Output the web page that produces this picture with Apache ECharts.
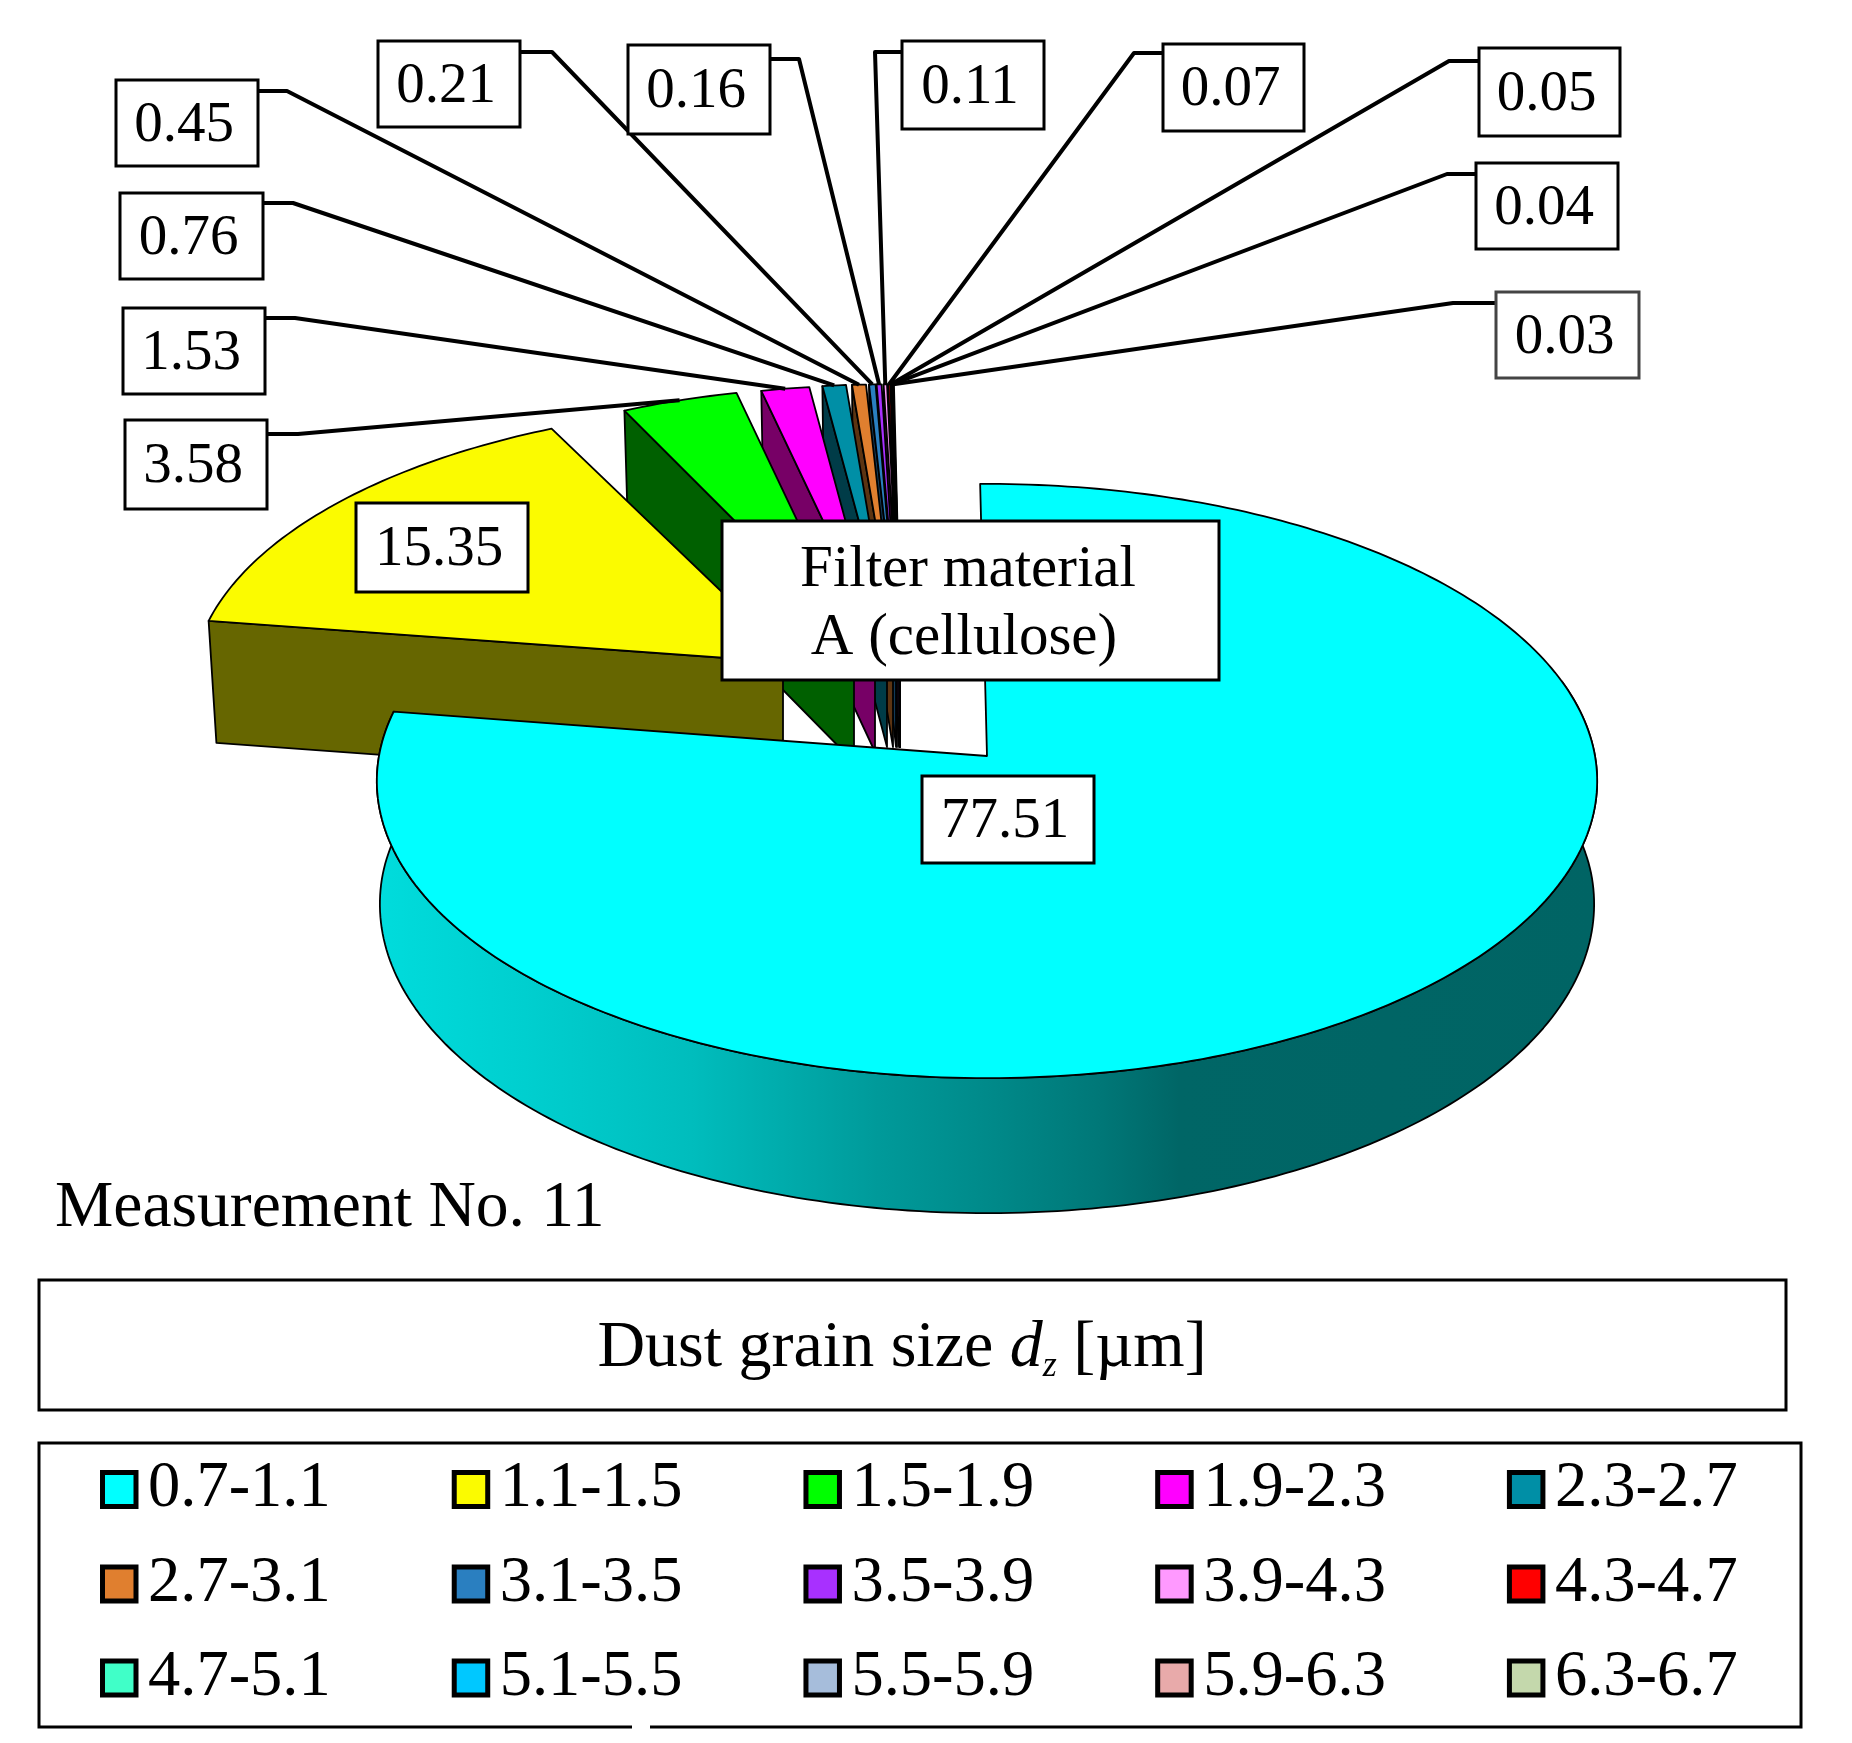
<!DOCTYPE html>
<html>
<head>
<meta charset="utf-8">
<style>html,body{margin:0;padding:0;background:#fff}#chart{width:1852px;height:1743px}</style>
<script src="https://cdn.jsdelivr.net/npm/echarts@6/dist/echarts.min.js"></script>
</head>
<body>
<div id="chart"></div>
<script>
// ---- data ----
const sizeClasses = ['0.7-1.1','1.1-1.5','1.5-1.9','1.9-2.3','2.3-2.7','2.7-3.1','3.1-3.5','3.5-3.9','3.9-4.3','4.3-4.7','4.7-5.1','5.1-5.5','5.5-5.9','5.9-6.3','6.3-6.7'];
const shares = [77.51,15.35,3.58,1.53,0.76,0.45,0.21,0.16,0.11,0.07,0.05,0.04,0.03];
const chartNote = 'Measurement No. 11';
const materialLines = ['Filter material','A (cellulose)'];
// ---- style ----
const topColors = ['#00ffff','#fbfb00','#00ff00','#ff00ff','#008fa6','#e07f2f','#2a7fc0','#a830ff','#ff99ff','#ff0000','#40ffc8','#00c8ff','#a6bddb','#e8aaaa','#c4d8ac'];
const sideColors = [null,'#666600','#006000','#770066','#003c48','#5c3412','#123a58','#40106a','#601060','#500000','#106050','#005068','#405060','#605048','#506048'];
// ---- layout ----
const CX=987, CY=756, RX=608, RY=295, PERSP=0.0842, DEPTH=122, START=-0.7;
const apexes=[[987,756],[796,663],[854,640],[875,630],[887,625],[893,625],[896,625],[897,625],[899,625],[900,625],[900,625],[900,625],[900,625]];
const sideX=[987,783,854,875,887,893,896,897,899,900,900,900,900];
const radiiX=[1,.99,.93,.9,.885,.885,.885,.885,.885,.885,.885,.885,.885];
const radiiY=[1,.95,.93,.9,.885,.885,.885,.885,.885,.885,.885,.885,.885];
// value boxes: x0,y0,x1,y1, and the elbow of the leader (null = inside the slice)
const boxes=[[922,776,1094,863,null],[356,503,528,592,null],[125,420,267,509,[298,434]],[123,308,265,394,[295,318]],[120,193,263,279,[293,203]],[116,80,258,166,[287,91]],[378,41,520,127,[552,52]],[628,45,770,134,[799,59]],[902,41,1044,129,[875,52]],[1163,44,1304,131,[1134,53]],[1479,48,1620,136,[1449,61]],[1476,163,1618,249,[1447,174]],[1496,292,1639,378,[1453,303]]];

const total = shares.reduce((a,b)=>a+b,0);
const rad=d=>d*Math.PI/180;
function rim(deg){const u=Math.sin(rad(deg)),v=-Math.cos(rad(deg)),d=1-PERSP*v;return [RX*u/d,RY*v/d,v];}
function topPt(i,deg){const r=rim(deg),a=apexes[i];return [a[0]+radiiX[i]*r[0],a[1]+radiiY[i]*r[1]];}
function lower(p,extra,shrink){return [CX+(p[0]-CX)*(shrink||0.99),p[1]+DEPTH+(extra||0)];}
let acc=START; const ranges=shares.map(v=>{const a=acc;acc+=v/total*360;return [a,acc];});
function arc(i,a,b){const n=Math.max(2,Math.ceil(Math.abs(b-a)));const o=[];for(let k=0;k<=n;k++){o.push(a+(b-a)*k/n);}return o;}
const EDGE={stroke:'#000',lineWidth:1.8,lineJoin:'round'};
const wallFill=new echarts.graphic.LinearGradient(378,0,1598,0,[
 {offset:0,color:'#00dcdc'},{offset:.12,color:'#00cfcf'},{offset:.257,color:'#00bdbd'},{offset:.41,color:'#009a9a'},{offset:.51,color:'#008888'},{offset:.59,color:'#007878'},{offset:.657,color:'#006666'},{offset:1,color:'#006464'}],true);

function renderSlice(idx){
  return function(){
    if(idx>=shares.length) return {type:'group',children:[]};
    const [a,b]=ranges[idx];
    const kids=[];
    const apex=apexes[idx];
    if(idx===0){
      const angs=arc(0,75,b);
      const up=angs.map(t=>topPt(0,t));
      const dn=angs.map(t=>lower(topPt(0,t),13*Math.max(rim(t)[2],0),0.995)).reverse();
      kids.push({type:'polygon',shape:{points:up.concat(dn)},style:Object.assign({fill:wallFill},EDGE)});
    }else{
      const c=topPt(idx,a);
      const t=(sideX[idx]-c[0])/(apex[0]-c[0]);
      const inner=[sideX[idx],c[1]+(apex[1]-c[1])*t];
      kids.push({type:'polygon',shape:{points:[c,inner,[inner[0],inner[1]+DEPTH],lower(c)]},style:Object.assign({fill:sideColors[idx]},EDGE)});
    }
    const pts=[apex].concat(arc(idx,a,b).map(t=>topPt(idx,t)));
    kids.push({type:'polygon',shape:{points:pts},style:Object.assign({fill:topColors[idx]},EDGE)});
    return {type:'group',children:kids};
  };
}
const FONT='"Liberation Serif","Times New Roman",serif';
const sliceSeries=sizeClasses.map((name,i)=>({
  name,type:'custom',coordinateSystem:'none',silent:true,animation:false,
  z:40-i,itemStyle:{color:topColors[i]},
  data:i<shares.length?[[shares[i]]]:[],
  renderItem:renderSlice(i)
}));
const leaderSeries={name:'leaders',type:'custom',coordinateSystem:'none',silent:true,animation:false,z:60,
  data:shares.map(v=>[v]),
  renderItem:function(p){
    const i=p.dataIndex,bx=boxes[i];
    if(!bx[4]) return {type:'group',children:[]};
    const mid=(ranges[i][0]+ranges[i][1])/2,end=topPt(i,mid);
    const fromX=bx[4][0]>bx[2]?bx[2]:bx[0];
    return {type:'polyline',shape:{points:[[fromX,bx[4][1]],bx[4],end]},style:{stroke:'#000',fill:null,lineWidth:4,lineJoin:'round'}};
  }};
const boxSeries={name:'values',type:'custom',coordinateSystem:'none',silent:true,animation:false,z:70,
  data:shares.map(v=>[v]),
  renderItem:function(p){
    const i=p.dataIndex,bx=boxes[i];
    const stroke=i===12?'#444':'#000';
    return {type:'group',children:[
      {type:'rect',shape:{x:bx[0],y:bx[1],width:bx[2]-bx[0],height:bx[3]-bx[1]},style:{fill:'#fff',stroke,lineWidth:3}},
      {type:'text',style:{x:(bx[0]+bx[2])/2-3,y:(bx[1]+bx[3])/2+3,text:shares[i].toFixed(2),font:'57px '+FONT,fill:'#000',align:'center',verticalAlign:'middle'}}
    ]};
  }};
const rows=[sizeClasses.slice(0,5),sizeClasses.slice(5,10),sizeClasses.slice(10,15)];
const rowY=[1489.5,1584,1678];
const legends=rows.map((names,r)=>({
  show:true,orient:'horizontal',left:100,top:rowY[r]-38,padding:0,itemWidth:33.5,itemHeight:34,itemGap:121,selectedMode:false,icon:'rect',
  textStyle:{fontFamily:FONT,fontSize:64.5,lineHeight:62,color:'#000',padding:[14,0,0,7]},
  data:names.map(n=>({name:n,icon:'rect',itemStyle:{color:topColors[sizeClasses.indexOf(n)],borderColor:'#000',borderWidth:5}}))
}));
const option={
  backgroundColor:'#fff',animation:false,
  title:[
    {text:chartNote,left:55,top:1173,padding:0,textStyle:{fontFamily:FONT,fontSize:65.6,fontWeight:'normal',color:'#000',lineHeight:72}},
    {text:'{a|Dust grain size }{i|d}{s|z}{a| [µm]}',left:902,textAlign:'center',top:1313,padding:0,
     textStyle:{fontWeight:'normal',rich:{a:{fontFamily:FONT,fontSize:66,fontWeight:'normal',color:'#000',lineHeight:72},i:{fontFamily:FONT,fontStyle:'italic',fontWeight:'normal',fontSize:66,color:'#000',lineHeight:72},s:{fontFamily:FONT,fontStyle:'italic',fontWeight:'normal',fontSize:36,color:'#000',lineHeight:60,verticalAlign:'bottom'}}}}
  ],
  legend:legends,
  graphic:{elements:[
    {type:'rect',z:5,silent:true,shape:{x:39,y:1280,width:1747,height:130},style:{fill:'#fff',stroke:'#000',lineWidth:3}},
    {type:'polyline',z:5,silent:true,shape:{points:[[632,1727],[39,1727],[39,1443],[1801,1443],[1801,1727],[650,1727]]},style:{fill:null,stroke:'#000',lineWidth:3}},
    {type:'rect',z:80,silent:true,shape:{x:722,y:521,width:497,height:159},style:{fill:'#fff',stroke:'#000',lineWidth:3}},
    {type:'text',z:81,silent:true,style:{x:968,y:570,text:materialLines[0],font:'59px '+FONT,fill:'#000',align:'center',verticalAlign:'middle'}},
    {type:'text',z:81,silent:true,style:{x:964,y:638,text:materialLines[1],font:'59px '+FONT,fill:'#000',align:'center',verticalAlign:'middle'}}
  ]},
  series:sliceSeries.concat([leaderSeries,boxSeries])
};
const chart=echarts.init(document.getElementById('chart'));
chart.setOption(option);
</script>
</body>
</html>
